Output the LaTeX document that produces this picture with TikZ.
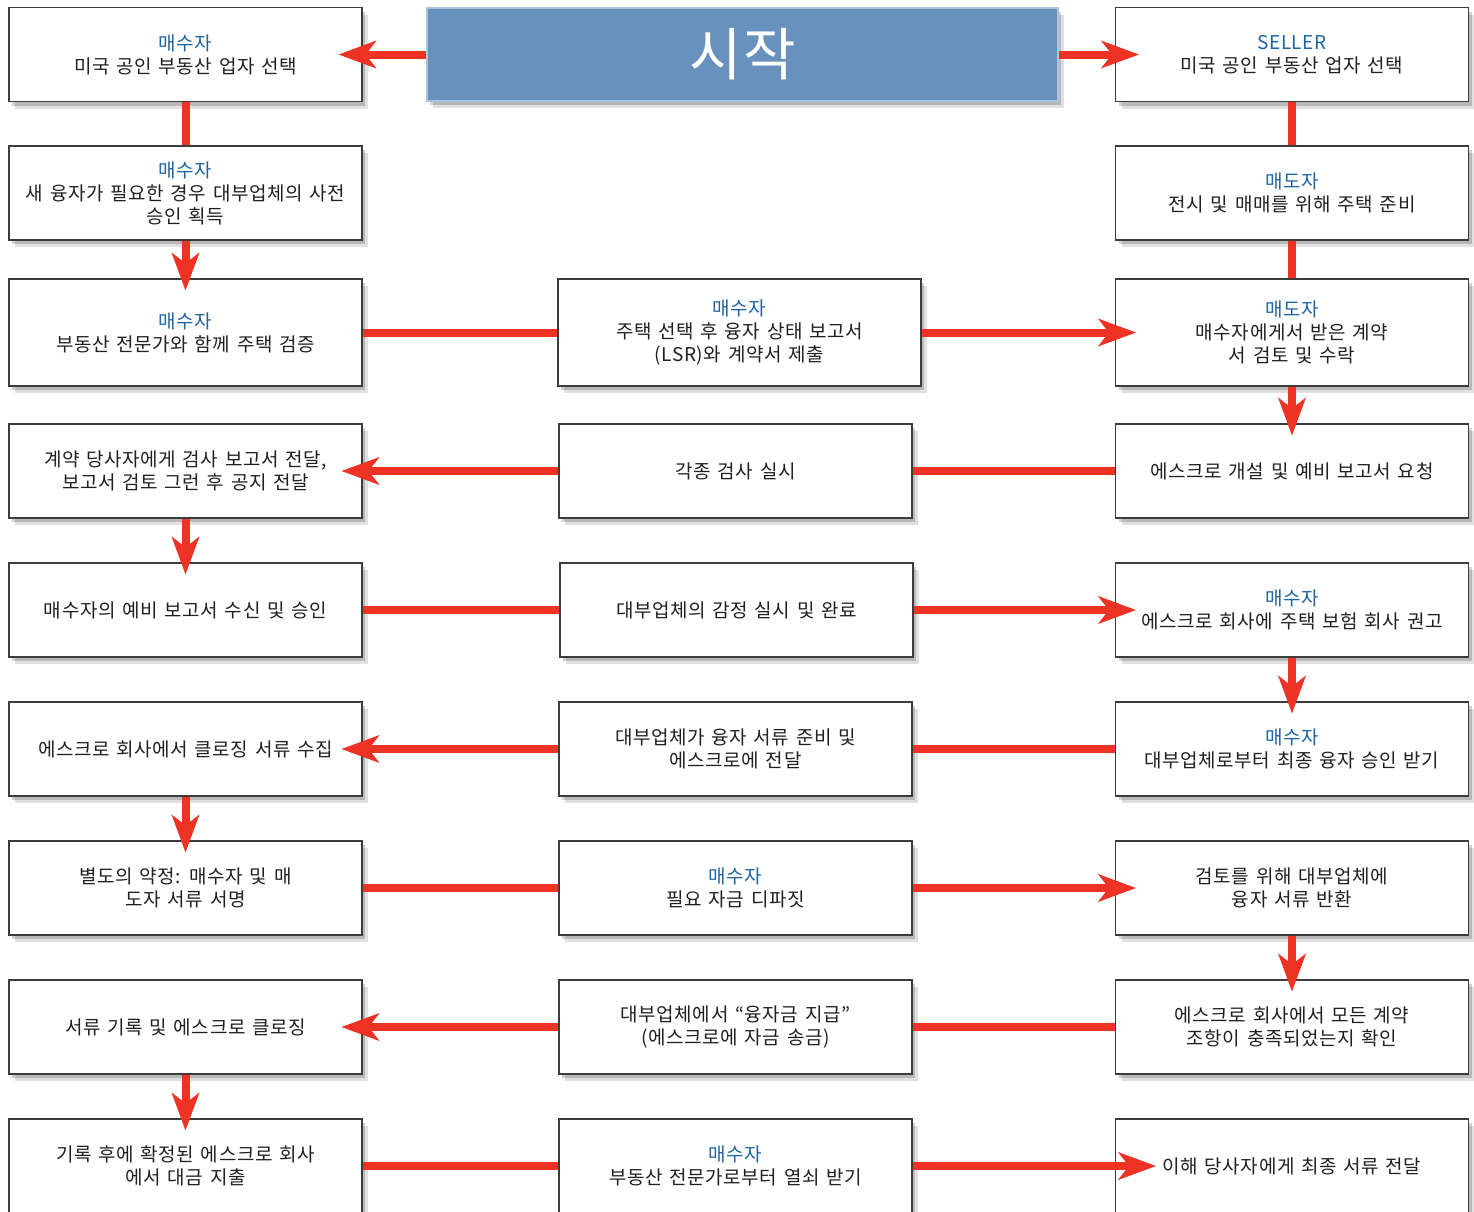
\documentclass[tikz,border=0pt]{standalone}
\usepackage{fontspec}
\setmainfont{Noto Sans CJK KR}[WordSpace=1.4, LetterSpace=3]
\usetikzlibrary{arrows.meta,shadows}
\definecolor{flowred}{RGB}{238,50,36}
\definecolor{roleblue}{RGB}{30,100,160}
\definecolor{boxline}{RGB}{60,60,60}
\definecolor{textgrey}{RGB}{35,31,32}
\definecolor{startfill}{RGB}{104,146,189}
\definecolor{startline}{RGB}{170,195,222}
\newcommand{\who}[1]{{\color{roleblue}#1}\\}

\begin{document}
\begin{tikzpicture}[x=1pt, y=-1pt,
  box/.style={draw=boxline, line width=1.2pt, fill=white, text=textgrey,
    minimum width=353pt, minimum height=94pt, align=center, inner sep=4pt,
    font=\fontsize{19}{23}\selectfont,
    drop shadow={shadow xshift=3pt, shadow yshift=-4pt, opacity=.18, fill=black},
    drop shadow={shadow xshift=6pt, shadow yshift=-7pt, opacity=.12, fill=black}},
  startbox/.style={box, draw=startline, fill=startfill, text=white,
    minimum width=631pt, minimum height=93pt, font=\fontsize{57}{64}\selectfont},
  flow/.style={draw=flowred, line width=8pt},
  go/.style={flow, shorten >=-21pt,
    -{Stealth[length=38pt, width=28pt, inset=11pt, line width=1pt]}},
  godown/.style={go, shorten >=-12pt}]

\useasboundingbox (0,0) rectangle (1474,1211);

% start
\node[startbox] (start) at (742.5,54.5) {시작};

% rows 1 and 2
\node[box] (l1) at (185.5,54.5) {\who{매수자}미국 공인 부동산 업자 선택};
\node[box] (r1) at (1292,54.5) {\who{SELLER}미국 공인 부동산 업자 선택};
\node[box] (l2) at (185.5,193) {\who{매수자}새 융자가 필요한 경우 대부업체의 사전\\승인 획득};
\node[box] (r2) at (1292,193) {\who{매도자}전시 및 매매를 위해 주택 준비};

% row 3
\node[box, minimum height=107pt] (l3) at (185.5,332.5) {\who{매수자}부동산 전문가와 함께 주택 검증};
\node[box, minimum height=107pt, minimum width=363pt] (c3) at (739.5,332.5) {\who{매수자}주택 선택 후 융자 상태 보고서\\(LSR)와 계약서 제출};
\node[box, minimum height=107pt] (r3) at (1292,332.5) {\who{매도자}매수자에게서 받은 계약\\서 검토 및 수락};

% row 4
\node[box] (l4) at (185.5,471) {계약 당사자에게 검사 보고서 전달,\\보고서 검토 그런 후 공지 전달};
\node[box] (c4) at (735.5,471) {각종 검사 실시};
\node[box] (r4) at (1292,471) {에스크로 개설 및 예비 보고서 요청};

% row 5
\node[box] (l5) at (185.5,610) {매수자의 예비 보고서 수신 및 승인};
\node[box] (c5) at (736.5,610) {대부업체의 감정 실시 및 완료};
\node[box] (r5) at (1292,610) {\who{매수자}에스크로 회사에 주택 보험 회사 권고};

% row 6
\node[box] (l6) at (185.5,749) {에스크로 회사에서 클로징 서류 수집};
\node[box] (c6) at (735.5,749) {대부업체가 융자 서류 준비 및\\에스크로에 전달};
\node[box] (r6) at (1292,749) {\who{매수자}대부업체로부터 최종 융자 승인 받기};

% row 7
\node[box] (l7) at (185.5,888) {별도의 약정: 매수자 및 매\\도자 서류 서명};
\node[box] (c7) at (735.5,888) {\who{매수자}필요 자금 디파짓};
\node[box] (r7) at (1292,888) {검토를 위해 대부업체에\\융자 서류 반환};

% row 8
\node[box] (l8) at (185.5,1027) {서류 기록 및 에스크로 클로징};
\node[box] (c8) at (735.5,1027) {대부업체에서 “융자금 지급”\\(에스크로에 자금 송금)};
\node[box] (r8) at (1292,1027) {에스크로 회사에서 모든 계약\\조항이 충족되었는지 확인};

% row 9
\node[box] (l9) at (185.5,1166) {기록 후에 확정된 에스크로 회사\\에서 대금 지출};
\node[box] (c9) at (735.5,1166) {\who{매수자}부동산 전문가로부터 열쇠 받기};
\node[box] (r9) at (1292,1166) {이해 당사자에게 최종 서류 전달};

% connectors
\draw[go, shorten >=-24pt] (start) -- (l1);
\draw[go, shorten >=-24pt] (start) -- (r1);
\draw[flow] (l1) -- (l2);
\draw[flow] (r1) -- (r2);
\draw[godown] (l2) -- (l3);
\draw[flow] (r2) -- (r3);
\draw[flow] (l3) -- (c3);
\draw[go] (c3) -- (r3);
\draw[godown] (r3) -- (r4);
\draw[flow] (r4) -- (c4);
\draw[go] (c4) -- (l4);
\draw[godown] (l4) -- (l5);
\draw[flow] (l5) -- (c5);
\draw[go] (c5) -- (r5);
\draw[godown] (r5) -- (r6);
\draw[flow] (r6) -- (c6);
\draw[go] (c6) -- (l6);
\draw[godown] (l6) -- (l7);
\draw[flow] (l7) -- (c7);
\draw[go] (c7) -- (r7);
\draw[godown] (r7) -- (r8);
\draw[flow] (r8) -- (c8);
\draw[go] (c8) -- (l8);
\draw[godown] (l8) -- (l9);
\draw[flow] (l9) -- (c9);
\draw[go, shorten >=-41pt] (c9) -- (r9);
\end{tikzpicture}
\end{document}
